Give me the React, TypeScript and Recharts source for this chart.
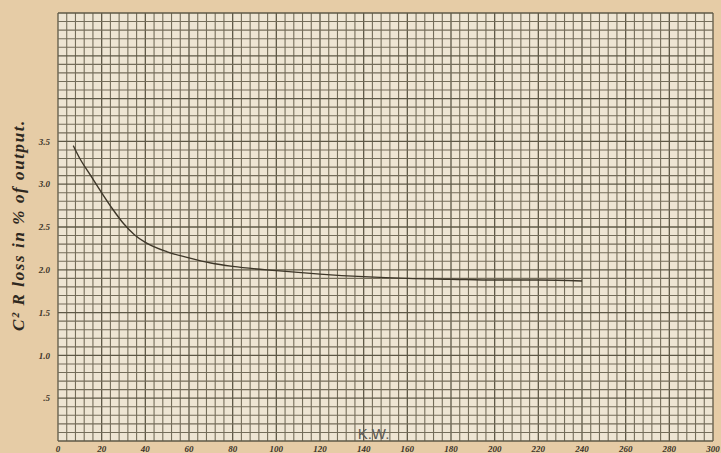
import React from "react";
import { CartesianGrid, Label, Line, LineChart, ReferenceLine, XAxis, YAxis } from "recharts";

// kilowatts along the bottom, C²R loss (%) up the side
const kw = [7, 10, 15, 20, 25, 30, 35, 40, 50, 60, 70, 80, 100, 120, 140, 160, 180, 200, 220, 240];
const loss = [3.45, 3.3, 3.1, 2.9, 2.71, 2.54, 2.41, 2.32, 2.21, 2.14, 2.08, 2.04, 1.99, 1.95, 1.92, 1.9, 1.89, 1.88, 1.88, 1.87];

const xTicks = [0, 20, 40, 60, 80, 100, 120, 140, 160, 180, 200, 220, 240, 260, 280, 300];
const yTicks = [0.5, 1.0, 1.5, 2.0, 2.5, 3.0, 3.5];

// graph paper rulings: every 4 kW and every 0.1 %
const gridX = Array.from({ length: 76 }, (_, i) => i * 4);
const gridY = Array.from({ length: 51 }, (_, i) => Math.round(i * 10) / 100);

const data = kw.map((k, i) => ({ kw: k, loss: loss[i] }));

const font = "'Liberation Serif', serif";

const tickStyle = {
  fill: "#3b3328",
  fontSize: 9,
  fontStyle: "italic",
  fontWeight: "bold",
  fontFamily: font,
};

function KwTick({ x, y, payload }: any) {
  return (
    <text x={x} y={y + 5} textAnchor="middle" {...tickStyle}>
      {payload.value}
    </text>
  );
}

export default function App() {
  return (
    <div style={{ position: "fixed", left: 0, top: 0, width: 721, height: 453, background: "#e6cca6" }}>
      <LineChart width={721} height={453} data={data} margin={{ top: 13, right: 8, left: 0, bottom: 0 }}>
        <CartesianGrid fill="#eee5d3" stroke="none" />
        {gridX.map((v, i) => (
          <ReferenceLine
            key={"x" + v}
            x={v}
            stroke={i % 5 === 0 ? "#5e5846" : "#746d5a"}
            strokeWidth={i % 5 === 0 ? 1.3 : 1.1}
          />
        ))}
        {gridY.map((v, i) => (
          <ReferenceLine
            key={"y" + v}
            y={v}
            stroke={i % 5 === 0 ? "#5e5846" : "#746d5a"}
            strokeWidth={i % 5 === 0 ? 1.3 : 1.1}
          />
        ))}
        <XAxis
          dataKey="kw"
          type="number"
          domain={[0, 300]}
          ticks={xTicks}
          interval={0}
          height={12}
          tickLine={false}
          axisLine={false}
          tickMargin={0}
          tick={<KwTick />}
        >
          <Label
            content={({ viewBox }: any) => (
              <text
                x={viewBox.x + viewBox.width / 2 - 12}
                y={viewBox.y - 2}
                textAnchor="middle"
                fill="#5c5a55"
                fontSize={15}
                fontFamily="'Liberation Sans', sans-serif"
              >
                K.W.
              </text>
            )}
          />
        </XAxis>
        <YAxis
          type="number"
          domain={[0, 5]}
          ticks={yTicks}
          interval={0}
          width={58}
          tickLine={false}
          axisLine={false}
          tickMargin={2}
          tick={tickStyle}
          tickFormatter={(v: number) => (v === 0.5 ? ".5" : v.toFixed(1))}
        >
          <Label
            content={({ viewBox }: any) => {
              const cx = viewBox.x + 24;
              const cy = viewBox.y + viewBox.height / 2 - 2;
              return (
                <text
                  x={cx}
                  y={cy}
                  transform={`rotate(-90, ${cx}, ${cy})`}
                  textAnchor="middle"
                  fill="#2e2820"
                  fontSize={17}
                  fontStyle="italic"
                  fontWeight="bold"
                  letterSpacing={1.6}
                  fontFamily={font}
                >
                  C² R loss in % of output.
                </text>
              );
            }}
          />
        </YAxis>
        <Line
          type="monotone"
          dataKey="loss"
          stroke="#3e3729"
          strokeWidth={1.4}
          dot={false}
          isAnimationActive={false}
        />
      </LineChart>
    </div>
  );
}
